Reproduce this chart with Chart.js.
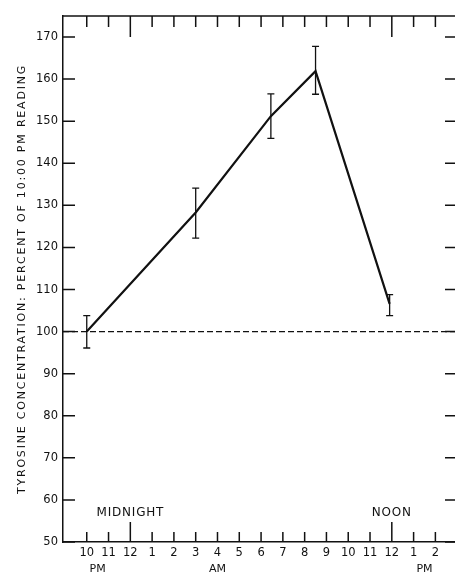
<!DOCTYPE html>
<html>
<head>
<meta charset="utf-8">
<script src="https://cdn.jsdelivr.net/npm/chart.js@4.4.1/dist/chart.umd.min.js"></script>
<style>
  html, body { margin: 0; padding: 0; background: #fff; }
  #wrap { width: 455px; height: 574px; }
</style>
</head>
<body>
<div id="wrap"><canvas id="tyrChart" width="455" height="574"></canvas></div>
<script>
// hours after 10:00 PM
const hourTicks = [0, 1, 2, 3, 4, 5, 6, 7, 8, 9, 10, 11, 12, 13, 14, 15, 16];
const hourLabels = ['10', '11', '12', '1', '2', '3', '4', '5', '6', '7', '8', '9', '10', '11', '12', '1', '2'];
const yTicks = [50, 60, 70, 80, 90, 100, 110, 120, 130, 140, 150, 160, 170];

const sampleHours = [0, 5, 8.45, 10.5, 13.9];
const tyrosine = [100, 128.3, 151.2, 161.9, 106.6];
const errHigh = [103.8, 134.1, 156.5, 167.8, 108.8];
const errLow = [96.1, 122.2, 145.9, 156.4, 103.8];

const baseline = 100;
const yTitle = 'TYROSINE CONCENTRATION: PERCENT OF 10:00 PM READING';
const noteLabels = ['MIDNIGHT', 'NOON'];
const noteHours = [2, 14];
const periodLabels = ['PM', 'AM', 'PM'];
const periodHours = [0.5, 6, 15.5];

const ink = '#111';
const fontFam = '"DejaVu Sans", sans-serif';

const ctx = document.getElementById('tyrChart').getContext('2d');

// inward tick marks, frame, baseline, error bars and notes
const extras = {
  id: 'extras',
  beforeDatasetsDraw(chart) {
    const c = chart.ctx;
    const a = chart.chartArea;
    const xs = chart.scales.x;
    const ys = chart.scales.y;
    c.save();
    c.strokeStyle = ink;
    c.lineWidth = 1.5;
    // top frame
    c.beginPath();
    c.moveTo(a.left, a.top);
    c.lineTo(a.right, a.top);
    c.stroke();
    // hour ticks, top and bottom
    hourTicks.forEach(h => {
      const x = xs.getPixelForValue(h);
      const isNoon = noteHours.includes(h);
      c.beginPath();
      c.moveTo(x, a.top);
      c.lineTo(x, a.top + (isNoon ? 21 : 11));
      c.moveTo(x, a.bottom);
      c.lineTo(x, a.bottom - (isNoon ? 20 : 10));
      c.stroke();
    });
    // value ticks, left and right
    yTicks.forEach(v => {
      const y = ys.getPixelForValue(v);
      c.beginPath();
      c.moveTo(a.left, y);
      c.lineTo(a.left + 12, y);
      c.moveTo(a.right, y);
      c.lineTo(a.right - 10, y);
      c.stroke();
    });
    // dashed 10 PM reference line
    c.setLineDash([6, 3]);
    c.lineWidth = 1.3;
    const yb = ys.getPixelForValue(baseline);
    c.beginPath();
    c.moveTo(a.left, yb);
    c.lineTo(a.right, yb);
    c.stroke();
    c.setLineDash([]);
    // error bars
    c.lineWidth = 1.3;
    sampleHours.forEach((h, i) => {
      const x = xs.getPixelForValue(h);
      const y1 = ys.getPixelForValue(errHigh[i]);
      const y2 = ys.getPixelForValue(errLow[i]);
      c.beginPath();
      c.moveTo(x, y1);
      c.lineTo(x, y2);
      c.moveTo(x - 3.5, y1);
      c.lineTo(x + 3.5, y1);
      c.moveTo(x - 3.5, y2);
      c.lineTo(x + 3.5, y2);
      c.stroke();
    });
    // notes
    c.fillStyle = ink;
    c.textAlign = 'center';
    c.textBaseline = 'middle';
    c.font = '500 12px ' + fontFam;
    c.letterSpacing = '0.8px';
    noteLabels.forEach((t, i) => {
      c.fillText(t, xs.getPixelForValue(noteHours[i]), 513);
    });
    c.letterSpacing = '0px';
    c.font = '11px ' + fontFam;
    periodLabels.forEach((t, i) => {
      c.fillText(t, xs.getPixelForValue(periodHours[i]), 569);
    });
    // y axis title, spaced out like the original lettering
    c.translate(22, (a.top + a.bottom) / 2);
    c.rotate(-Math.PI / 2);
    c.font = '11px ' + fontFam;
    c.letterSpacing = '1.8px';
    c.fillText(yTitle, 0, 0);
    c.restore();
  }
};

let chart = new Chart(ctx, {
  type: 'line',
  data: {
    datasets: [{
      data: sampleHours.map((h, i) => ({ x: h, y: tyrosine[i] })),
      borderColor: ink,
      borderWidth: 2.2,
      pointRadius: 0,
      tension: 0,
      fill: false
    }]
  },
  plugins: [extras],
  options: {
    responsive: false,
    animation: false,
    layout: { padding: { top: 16, right: 0, left: 0, bottom: 0 } },
    plugins: {
      legend: { display: false },
      tooltip: { enabled: false }
    },
    scales: {
      x: {
        type: 'linear',
        min: -1.09,
        max: 16.9,
        afterBuildTicks: s => { s.ticks = hourTicks.map(v => ({ value: v })); },
        afterFit: s => { s.height = 32; },
        grid: { drawOnChartArea: false, drawTicks: false },
        border: { display: true, color: ink, width: 1.5 },
        ticks: {
          autoSkip: false,
          maxRotation: 0,
          padding: 4,
          color: ink,
          font: { family: fontFam, size: 11.5 },
          callback: (v, i) => hourLabels[i]
        }
      },
      y: {
        min: 50,
        max: 175,
        afterBuildTicks: s => { s.ticks = yTicks.map(v => ({ value: v })); },
        afterFit: s => { s.width = 63; },
        grid: { drawOnChartArea: false, drawTicks: false },
        border: { display: true, color: ink, width: 1.5 },
        ticks: {
          padding: 5,
          color: ink,
          font: { family: fontFam, size: 11.5 },
          callback: v => String(v)
        }
      }
    }
  }
});
</script>
</body>
</html>
